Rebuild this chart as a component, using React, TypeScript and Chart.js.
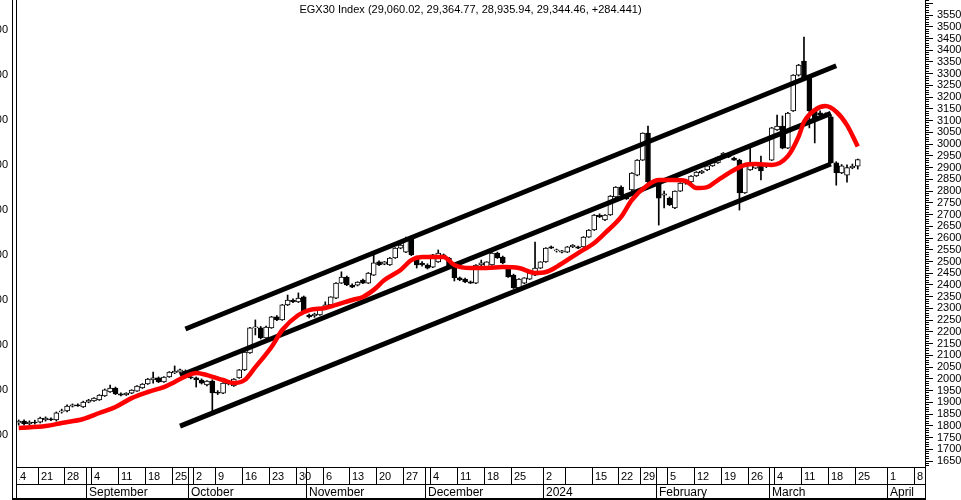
import { useEffect, useRef } from 'react';
import { Chart, registerables } from 'chart.js';

Chart.register(...registerables);

const FONT = '"Liberation Sans", Arial, Helvetica, sans-serif';
const TITLE = 'EGX30 Index (29,060.02, 29,364.77, 28,935.94, 29,344.46, +284.441)';

// ---- calendar (weeks start on the Monday shown on the axis) ----
const weekStarts = ['2023-08-14','2023-08-21','2023-08-28','2023-09-04','2023-09-11','2023-09-18','2023-09-25','2023-10-02','2023-10-09','2023-10-16','2023-10-23','2023-10-30','2023-11-06','2023-11-13','2023-11-20','2023-11-27','2023-12-04','2023-12-11','2023-12-18','2023-12-25','2024-01-02','2024-01-08','2024-01-15','2024-01-22','2024-01-29','2024-02-05','2024-02-12','2024-02-19','2024-02-26','2024-03-04','2024-03-11','2024-03-18','2024-03-25','2024-04-01','2024-04-08'];
const weekTickText = ['14','21','28','4','11','18','25','2','9','16','23','30','6','13','20','27','4','11','18','25','2','','15','22','29','5','12','19','26','4','11','18','25','1','8'];
const weekSlotCounts = [5,5,5,5,5,5,4,4,5,5,5,5,5,5,5,5,5,5,5,6,4,5,5,4,5,5,5,5,5,5,5,5,6,5,2];
const monthNames = ['September','October','November','December','2024','February','March','April'];
const monthFirstDays = ['2023-09-03','2023-10-01','2023-11-01','2023-12-03','2024-01-02','2024-02-01','2024-03-03','2024-04-01'];

// ---- daily candles ----
const opens = [18120,18200,18080,18160,18160,18250,18290,18250,18590,18630,18840,18890,18800,19010,19060,19100,19270,19440,19610,19360,19320,19390,19480,19610,19780,19950,20040,19870,20080,20250,20290,20330,20080,
20040,19950,19740,19910,19420,19390,19820,19700,20040,20380,21100,22170,22170,21740,22170,22640,22510,23150,23360,23280,23490,22720,22680,22720,23020,23150,23440,24080,24340,24000,23990,24210,24080,24420,
24980,24890,24850,25150,25570,25400,26000,25150,24930,24850,24760,24980,25280,25150,24770,24300,24250,24130,24080,24850,24770,24850,25360,25190,24720,24420,23870,24080,24250,24420,24720,24980,25620,25450,25400,
25400,25620,25620,25620,26040,26340,26980,26770,26980,27750,28170,27750,28050,28680,29320,30470,28390,28340,27830,27700,27280,28000,28340,28390,28640,28770,28900,29070,29200,29540,29530,29410,29320,27920,28900,
28980,29190,29060,29320,30600,30770,29830,31410,32940,33540,32820,31410,31330,31240,31160,29200,28770,28680,28990,29060.02];
const highs = [18250,18250,18210,18240,18370,18380,18340,18590,18710,18890,18930,18940,19050,19130,19200,19330,19570,19740,19650,19400,19410,19540,19710,19800,20020,20290,20080,20100,20310,20550,20420,20380,20120,
20080,20000,19930,19960,19500,19840,19880,20010,20400,21170,22190,22510,22230,22250,22660,22700,23170,23570,23410,23660,23530,22760,22800,23040,23280,23500,24100,24560,24380,24050,24140,24250,24530,25360,
25030,25000,25170,25590,25740,26040,26080,25190,25000,24900,25300,25490,25320,25180,24800,24340,24290,24170,24870,25060,24990,25380,25400,25230,24760,24460,24270,24310,24520,25830,24990,25590,25660,25530,25480,
25640,25720,25660,26060,26360,27000,27030,27000,27810,28190,28220,27790,28790,29340,30480,30770,28450,28380,28000,27750,28010,28360,28450,28660,28830,28880,29090,29300,29470,29640,29560,29450,29360,29130,29920,
29220,29490,29150,30710,31240,31200,31350,32960,33400,34560,32870,31450,31420,31330,31250,29250,29130,29120,29150,29364.77];
const lows = [18030,18030,18040,18070,18120,18200,18220,18200,18540,18590,18800,18830,18780,18980,19040,19080,19250,19420,19330,19270,19290,19370,19460,19590,19760,19820,19840,19850,20060,20220,20260,20050,20000,
19650,19780,19700,18590,19330,19370,19740,19680,20020,20350,21080,21870,21700,21720,22150,22480,22490,23120,23250,23250,22830,22600,22620,22700,22990,23120,23420,24060,23970,23880,23960,24060,24060,24400,
24820,24860,24830,25130,25540,25380,25250,24720,24800,24680,24740,24960,25150,24790,24170,24180,24100,24060,24060,24800,24740,24830,25130,24900,24320,23850,23840,24050,24230,24400,24700,24960,25550,25400,25360,
25380,25590,25550,25600,26020,26320,26870,26740,26960,27720,27800,27640,28020,28650,29300,28360,28250,26550,27280,27380,27250,27980,28290,28360,28620,28740,28870,29050,29180,29510,29420,29300,27190,27900,28880,
28960,28470,29000,29300,30580,29800,29810,31390,32900,32780,30690,30050,31150,31150,29180,28250,28740,28380,28950,28935.94];
const closes = [18200,18080,18160,18120,18330,18330,18250,18550,18630,18840,18890,18850,19010,19100,19180,19310,19530,19610,19360,19310,19390,19520,19690,19780,19990,20040,19870,20080,20290,20330,20380,20080,20040,
19950,19820,19910,19400,19390,19820,19780,19990,20380,21140,22170,22210,21740,22210,22640,22510,23150,23360,23280,23440,22850,22640,22760,23020,23150,23490,24080,24340,24000,23910,24120,24080,24510,24940,
24850,24980,25150,25570,25700,25910,25280,24850,24850,24720,25280,25360,25190,24810,24300,24210,24130,24080,24850,24940,24980,25360,25150,24940,24340,23870,24250,24300,24510,24720,24980,25570,25570,25490,25450,
25620,25700,25570,26040,26340,26980,26900,26980,27790,28170,27830,27660,28770,29320,30470,28390,28300,27700,27880,27410,28000,28340,28430,28640,28810,28850,29070,29280,29450,29620,29450,29320,27920,29110,29200,
29190,28860,29110,30690,30770,29830,31320,32940,33370,32820,31410,31030,31240,31200,29200,28770,29080,29000,29060.02,29344.46];

// ---- smoothed average (red), sampled at slots ----
const maSlots = [0,5,8,12,15,18,21,24,27,29,31,33,35,38,40,42,44,47,49,52,54,57,59,62,64,66,68,71,73,75,77,79,81,84,87,90,93,96,98,100,104,107,109,112,114,117,119,122,124,126,128,130,133,135,137,140,143,145,146,148,150,152,154,156];
const maValues = [17906,17990,18120,18290,18545,18800,19180,19440,19650,19870,20100,20250,20160,19950,19820,19950,20500,21360,22080,22720,22930,23020,23150,23360,23490,23790,24210,24640,25060,25190,25190,25190,24850,24720,24720,24760,24720,24510,24550,24770,25360,25790,26210,26900,27620,28260,28470,28470,28430,28130,28170,28470,28900,29110,29150,29110,29490,30320,30940,31450,31620,31380,30810,29900];

// ---- trend channel (slot, value) ----
const upperSlots = [31, 152];
const upperValues = [22123, 33340];
const middleSlots = [30, 151];
const middleValues = [20142, 31312];
const lowerSlots = [30, 151];
const lowerValues = [17987, 29153];

// ---- axis ranges and steps ----
const priceMin = 16245;
const priceMax = 36139;
const priceLabelStep = 500;
const priceMinorStep = 100;
const priceTopLabel = 35500;
const leftMin = 928.9;
const leftMax = 1966.7;

// ---- derived categories ----
const OFFSETS: Record<number, number[]> = { 2: [0, 1], 4: [0, 1, 2, 6], 5: [0, 1, 2, 3, 6], 6: [0, 1, 2, 3, 4, 6] };
function addDays(iso: string, d: number) {
  const t = new Date(iso + 'T00:00:00Z');
  t.setUTCDate(t.getUTCDate() + d);
  return t.toISOString().slice(0, 10);
}
const allSlots = weekStarts.flatMap((ws, w) => OFFSETS[weekSlotCounts[w]].map((o) => addDays(ws, o)));
const slotLabels = allSlots.slice(1);
const weekFirstSlot = weekSlotCounts.map((_, w) => weekSlotCounts.slice(0, w).reduce((a, b) => a + b, 0) - 1);
const monthFirstSlot = monthFirstDays.map((d) => slotLabels.indexOf(d));

function sparse(slots: number[], values: number[]) {
  const arr: (number | null)[] = slotLabels.map(() => null);
  slots.forEach((s, i) => { arr[s] = values[i]; });
  return arr;
}
function stepTicks(min: number, max: number, step: number) {
  const out: { value: number }[] = [];
  for (let v = Math.ceil(min / step) * step; v <= max; v += step) out.push({ value: v });
  return out;
}

const HIDDEN_LEFT = 40;
const CANVAS_W = 1010;
const CANVAS_H = 500;

const datesPlugin = {
  id: 'datesAndFrame',
  afterDraw(chart: any) {
    const { ctx, chartArea: ca, scales } = chart;
    const xs = scales.x;
    const slot = xs.getPixelForValue(1) - xs.getPixelForValue(0);
    const edge = (i: number) => Math.round(xs.getPixelForValue(i) - slot / 2) + 0.5;
    const r0 = Math.round(ca.bottom) + 0.5;
    const r1 = r0 + 17;
    const r2 = r0 + 31;
    const left = Math.round(ca.left) + 0.5;
    const right = Math.round(ca.right) + 0.5;
    const seg = (x1: number, y1: number, x2: number, y2: number) => {
      ctx.beginPath(); ctx.moveTo(x1, y1); ctx.lineTo(x2, y2); ctx.stroke();
    };
    ctx.save();
    ctx.strokeStyle = '#000';
    ctx.lineWidth = 1;
    seg(left - 4, 0, left - 4, r2 + 1);
    seg(left, ca.top, left, r2);
    seg(left, r0, right, r0);
    seg(left, r1, right, r1);
    seg(right, r0, right, r2);
    ctx.lineWidth = 2;
    seg(left - 4.5, r2 + 0.5, right + 0.5, r2 + 0.5);
    ctx.lineWidth = 1;
    ctx.beginPath();
    ctx.rect(ca.left + 3, r0, ca.right - ca.left - 3, r2 - r0);
    ctx.clip();
    ctx.fillStyle = '#000';
    ctx.textAlign = 'left';
    ctx.textBaseline = 'middle';
    ctx.font = `11px ${FONT}`;
    weekFirstSlot.forEach((s, w) => {
      const x = edge(s);
      if (x > ca.left + 1) seg(x, r0, x, r1);
      ctx.fillText(weekTickText[w], x + 2.5, (r0 + r1) / 2 + 1);
    });
    ctx.font = `12px ${FONT}`;
    monthFirstSlot.forEach((s, m) => {
      const x = edge(s);
      seg(x, r0, x, r2);
      ctx.fillText(monthNames[m], x + 2.5, (r1 + r2) / 2 + 1);
    });
    ctx.restore();
  },
};

const titlePlugin = {
  id: 'insideTitle',
  afterDraw(chart: any) {
    const { ctx, chartArea: ca } = chart;
    ctx.save();
    ctx.fillStyle = '#000';
    ctx.font = `11px ${FONT}`;
    ctx.textAlign = 'center';
    ctx.textBaseline = 'middle';
    ctx.fillText(TITLE, (ca.left + ca.right) / 2, ca.top + 10);
    ctx.restore();
  },
};

export default function App() {
  const ref = useRef<HTMLCanvasElement>(null);

  useEffect(() => {
    if (!ref.current) return;
    Chart.defaults.font.family = FONT;
    const n = closes.length;
    const wickData = slotLabels.map((_, i) => (i < n ? [lows[i], highs[i]] : null));
    const bodyData = slotLabels.map((_, i) => (i < n ? [opens[i], closes[i]] : null));
    const bodyColors = slotLabels.map((_, i) => (i < n && closes[i] >= opens[i] ? '#ffffff' : '#000000'));
    const noPad = (s: any, w: number) => { s.width = w; s.paddingTop = 0; s.paddingBottom = 0; };

    const chart = new Chart(ref.current, {
      type: 'bar',
      data: {
        labels: slotLabels,
        datasets: [
          { type: 'bar', label: 'Range', data: wickData as any, backgroundColor: '#000', barThickness: 1, grouped: false, order: 4, xAxisID: 'x', yAxisID: 'y' },
          { type: 'bar', label: 'Body', data: bodyData as any, backgroundColor: bodyColors, borderColor: '#000', borderWidth: 1, borderSkipped: false, barThickness: 5, minBarLength: 1, grouped: false, order: 3, xAxisID: 'x', yAxisID: 'y' },
          { type: 'line', label: 'Upper', data: sparse(upperSlots, upperValues), borderColor: '#000', borderWidth: 5, pointRadius: 0, spanGaps: true, tension: 0, order: 2, xAxisID: 'x', yAxisID: 'y' },
          { type: 'line', label: 'Middle', data: sparse(middleSlots, middleValues), borderColor: '#000', borderWidth: 5, pointRadius: 0, spanGaps: true, tension: 0, order: 2, xAxisID: 'x', yAxisID: 'y' },
          { type: 'line', label: 'Lower', data: sparse(lowerSlots, lowerValues), borderColor: '#000', borderWidth: 5, pointRadius: 0, spanGaps: true, tension: 0, order: 2, xAxisID: 'x', yAxisID: 'y' },
          { type: 'line', label: 'Average', data: sparse(maSlots, maValues), borderColor: '#ff0000', borderWidth: 4.5, pointRadius: 0, spanGaps: true, cubicInterpolationMode: 'monotone', order: 1, xAxisID: 'x', yAxisID: 'y' },
        ] as any,
      },
      options: {
        responsive: false,
        animation: false,
        events: [],
        layout: { padding: { left: 0, right: 0, top: 0, bottom: 33 } },
        plugins: { legend: { display: false }, tooltip: { enabled: false }, title: { display: false } },
        scales: {
          x: { type: 'category', offset: true, display: false },
          yL: {
            type: 'linear', position: 'left', min: leftMin, max: leftMax,
            grid: { display: false, drawTicks: false },
            border: { display: true, color: '#000', width: 1 },
            ticks: { stepSize: 100, includeBounds: false, autoSkip: false, padding: 8, color: '#000', font: { family: FONT, size: 11 }, callback: (v: any) => String(v) },
            afterFit: (s: any) => noPad(s, 56),
          },
          yMinor: {
            type: 'linear', position: 'right', weight: 0, min: priceMin, max: priceMax,
            grid: { display: true, drawOnChartArea: false, drawTicks: true, tickLength: 4, tickColor: '#000', color: '#000' },
            border: { display: false },
            ticks: { display: false, autoSkip: false },
            afterBuildTicks: (s: any) => { s.ticks = stepTicks(priceMin, priceMax, priceMinorStep); },
            afterFit: (s: any) => noPad(s, 0),
          },
          y: {
            type: 'linear', position: 'right', weight: 1, min: priceMin, max: priceMax,
            grid: { display: true, drawOnChartArea: false, drawTicks: true, tickLength: 8, tickColor: '#000', color: '#000' },
            border: { display: true, color: '#000', width: 1 },
            ticks: { autoSkip: false, padding: 4, color: '#000', font: { family: FONT, size: 11 }, callback: (v: any) => (v > priceTopLabel ? '' : String(v)) },
            afterBuildTicks: (s: any) => { s.ticks = stepTicks(priceMin, priceMax, priceLabelStep); },
            afterFit: (s: any) => noPad(s, 45),
          },
        } as any,
      },
      plugins: [datesPlugin, titlePlugin],
    });
    return () => chart.destroy();
  }, []);

  return (
    <div style={{ position: 'fixed', left: 0, top: 0, width: 961, height: 500, overflow: 'hidden', background: '#fff' }}>
      <div style={{ position: 'absolute', left: -HIDDEN_LEFT, top: 0, width: CANVAS_W, height: CANVAS_H }}>
        <canvas ref={ref} width={CANVAS_W} height={CANVAS_H} style={{ display: 'block' }} />
      </div>
    </div>
  );
}
